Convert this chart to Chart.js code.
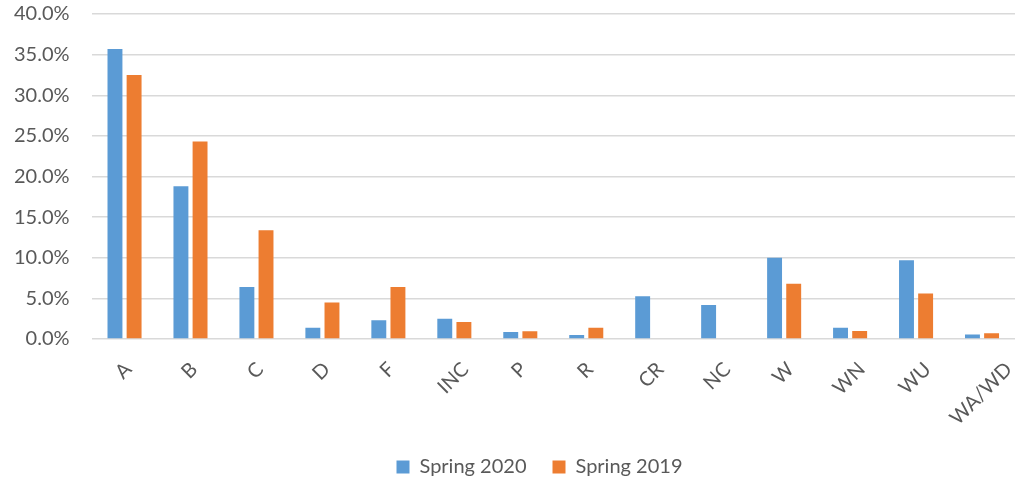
<!DOCTYPE html>
<html>
<head>
<meta charset="utf-8">
<script src="https://cdn.jsdelivr.net/npm/chart.js@4"></script>
<style>
  body { margin: 0; background: #fff; }
</style>
</head>
<body>
<canvas id="gradeChart" width="1034" height="482"></canvas>
<script>
// grade distribution, percent of all grades
const grades = ['A', 'B', 'C', 'D', 'F', 'INC', 'P', 'R', 'CR', 'NC', 'W', 'WN', 'WU', 'WA/WD'];
const spring2020 = [35.7, 18.8, 6.4, 1.4, 2.3, 2.5, 0.85, 0.5, 5.25, 4.2, 10.0, 1.4, 9.7, 0.55];
const spring2019 = [32.5, 24.3, 13.4, 4.5, 6.4, 2.1, 0.95, 1.4, 0, 0, 6.8, 1.0, 5.6, 0.7];

const ctx = document.getElementById('gradeChart').getContext('2d');
const textColor = '#595959';
const fontFamily = 'Lato, "Liberation Sans", sans-serif';
const font = { family: fontFamily, size: 20 };

// excel centres rotated labels under the tick, chart.js ends them there,
// so the category labels are drawn by hand at the scale's tick pixels
const rotatedLabels = {
    id: 'rotatedLabels',
    afterDraw(chart) {
        const scale = chart.scales.x;
        const c = chart.ctx;
        c.save();
        c.font = `20px ${fontFamily}`;
        c.fillStyle = textColor;
        c.textAlign = 'center';
        c.textBaseline = 'middle';
        scale.ticks.forEach((tick, i) => {
            const label = grades[i];
            const w = c.measureText(label).width;
            const x = scale.getPixelForTick(i) - 1;
            const y = scale.top + 22 + (w + 14) * 0.354;
            c.save();
            c.translate(x, y);
            c.rotate(-Math.PI / 4);
            c.fillText(label, 0, 0);
            c.restore();
        });
        c.restore();
    },
    afterLayout(chart) {
        // legend sits a little right of centre in the original
        const lg = chart.legend;
        lg.left += 26;
        lg.right += 26;
    },
};

new Chart(ctx, {
    type: 'bar',
    data: {
        labels: grades,
        datasets: [
            {
                label: 'Spring 2020',
                data: spring2020,
                backgroundColor: '#5b9bd5',
                categoryPercentage: 0.58,
                barPercentage: 0.78,
            },
            {
                label: 'Spring 2019',
                data: spring2019,
                backgroundColor: '#ed7d31',
                categoryPercentage: 0.58,
                barPercentage: 0.78,
            },
        ],
    },
    options: {
        responsive: false,
        animation: false,
        layout: { padding: { top: 4, right: 19, left: 12, bottom: -5 } },
        plugins: {
            tooltip: { enabled: false },
            legend: {
                position: 'bottom',
                labels: {
                    color: textColor,
                    font: font,
                    boxWidth: 13,
                    boxHeight: 13,
                    padding: 26,
                },
            },
        },
        scales: {
            x: {
                grid: { display: false },
                border: { display: false },
                ticks: { display: false },
                afterFit: (scale) => { scale.height = 92; },
            },
            y: {
                min: 0,
                max: 40,
                grid: {
                    color: '#d9d9d9',
                    lineWidth: 1.5,
                    drawTicks: true,
                    tickLength: 20,
                    tickColor: 'rgba(0,0,0,0)',
                },
                border: { display: false },
                ticks: {
                    stepSize: 5,
                    color: textColor,
                    font: font,
                    padding: 2,
                    callback: (v) => v.toFixed(1) + '%',
                },
            },
        },
    },
    plugins: [rotatedLabels],
});
</script>
</body>
</html>
